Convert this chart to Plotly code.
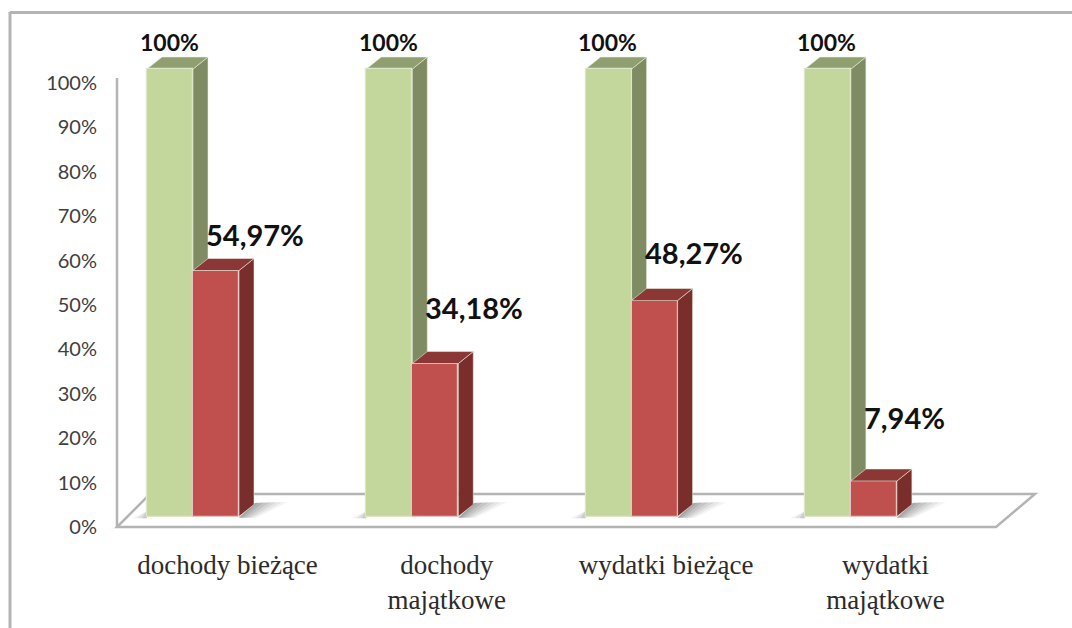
import plotly.graph_objects as go

categories = ["dochody bieżące", "dochody<br>majątkowe", "wydatki bieżące", "wydatki<br>majątkowe"]
green_values = [100, 100, 100, 100]
red_values = [54.97, 34.18, 48.27, 7.94]
green_labels = ["100%", "100%", "100%", "100%"]
red_labels = ["54,97%", "34,18%", "48,27%", "7,94%"]
tick_values = [0, 10, 20, 30, 40, 50, 60, 70, 80, 90, 100]
tick_labels = ["0%", "10%", "20%", "30%", "40%", "50%", "60%", "70%", "80%", "90%", "100%"]

# ---- layout geometry (pixels of the page) ----
W, H = 1072, 628
PLOT_L, AXIS_Y = 117, 527
CAT_X0, CAT_STEP = 227.5, 219.3      # pixel of first category label, spacing
BAR_BASE_Y, BAR_PX_PER_UNIT = 516.5, 4.475
TICK_PX_PER_UNIT = 4.44
BAR_W = 46
GREEN_L_OFF = -80.5                   # green bar left edge relative to category label centre
DEPTH_X, DEPTH_Y = 15, 12
RED_LABEL_LIFT = [36, 56, 48, 63]

GREEN, GREEN_SIDE, GREEN_TOP = "#C3D69B", "#7F8B63", "#8F9F70"
RED, RED_SIDE, RED_TOP = "#C0504D", "#7A2E2C", "#8B3735"
EDGE = "#B4B4B4"

ux = 1 / CAT_STEP
uy = 1 / BAR_PX_PER_UNIT
x_range = [(PLOT_L - CAT_X0) * ux, (W - CAT_X0) * ux]
y_range_bars = [(BAR_BASE_Y - AXIS_Y) * uy, BAR_BASE_Y * uy]
y_range_ticks = [0, AXIS_Y / TICK_PX_PER_UNIT]


def px(x):
    return (x - PLOT_L) / (W - PLOT_L)


def py(y):
    return (AXIS_Y - y) / AXIS_Y


def poly(xs, ys, color, yaxis):
    return go.Scatter(x=xs + xs[:1], y=ys + ys[:1], mode="lines", fill="toself", fillcolor=color,
                      line=dict(width=0.8, color="rgba(235,240,225,0.7)"),
                      hoverinfo="skip", showlegend=False, yaxis=yaxis)


def shadow(xs, ys, alpha):
    return go.Scatter(x=xs + xs[:1], y=ys + ys[:1], mode="lines", fill="toself",
                      fillcolor=f"rgba(90,90,90,{alpha})", line=dict(width=0),
                      hoverinfo="skip", showlegend=False, yaxis="y2")


fig = go.Figure()
w = BAR_W * ux
dx, dy = DEPTH_X * ux, DEPTH_Y * uy
green_x = [i + (GREEN_L_OFF + BAR_W / 2) * ux for i in range(4)]
red_x = [gx + w for gx in green_x]

# soft floor shadows, beneath everything
for i in range(4):
    rx = red_x[i] + w / 2
    lx = green_x[i] - w / 2
    for spread, alpha in [(34, 0.07), (28, 0.09), (22, 0.11), (16, 0.13), (10, 0.15), (5, 0.17)]:
        s = spread * ux
        fig.add_trace(shadow([rx, rx + dx, rx + dx + s, rx + s * 0.5],
                             [-0.3, dy * 1.1, dy * 1.2, -0.3], alpha))
    for spread, alpha in [(15, 0.08), (10, 0.12), (5, 0.16)]:
        s = spread * ux
        fig.add_trace(shadow([lx, lx, lx - s], [-0.4, dy * 0.45, -0.4], alpha))

# green depth faces sit behind the front faces of both bars
for i in range(4):
    xr = green_x[i] + w / 2
    xl = green_x[i] - w / 2
    v = green_values[i]
    fig.add_trace(poly([xr, xr + dx, xr + dx, xr], [0, dy, v + dy, v], GREEN_SIDE, "y2"))
    fig.add_trace(poly([xl, xr, xr + dx, xl + dx], [v, v, v + dy, v + dy], GREEN_TOP, "y2"))

# front faces
fig.add_trace(go.Bar(x=green_x, y=green_values, width=w, marker=dict(color=GREEN, line=dict(color="#DDE6C8", width=1.2)),
                     yaxis="y3", showlegend=False, hoverinfo="skip"))
fig.add_trace(go.Bar(x=red_x, y=red_values, width=w, marker=dict(color=RED, line=dict(color="#E6C4C2", width=1.2)),
                     yaxis="y3", showlegend=False, hoverinfo="skip"))

# red depth faces
for i in range(4):
    xr = red_x[i] + w / 2
    xl = red_x[i] - w / 2
    v = red_values[i]
    fig.add_trace(poly([xr, xr + dx, xr + dx, xr], [0, dy, v + dy, v], RED_SIDE, "y3"))
    fig.add_trace(poly([xl, xr, xr + dx, xl + dx], [v, v, v + dy, v + dy], RED_TOP, "y3"))

# invisible trace so the base axis pair (with the percent ticks) is active
fig.add_trace(go.Scatter(x=[0], y=[0], mode="markers", marker=dict(opacity=0), hoverinfo="skip",
                         showlegend=False, yaxis="y"))

annotations = []
for i in range(4):
    annotations.append(dict(x=green_x[i], y=green_values[i], xref="x", yref="y3", text=green_labels[i],
                            showarrow=False, yshift=27, xanchor="center", yanchor="middle", xshift=-1,
                            font=dict(family="Lato", size=23, color="#111111", weight="bold")))
    annotations.append(dict(x=red_x[i] - w / 2, y=red_values[i], xref="x", yref="y3", text=red_labels[i],
                            showarrow=False, xshift=11, yshift=RED_LABEL_LIFT[i], xanchor="left", yanchor="middle",
                            font=dict(family="Lato", size=29, color="#111111", weight="bold")))

floor_path = "M {} {} L {} {} L {} {} L {} {} Z".format(
    px(117), py(527), px(996), py(527), px(1035), py(494), px(150), py(494))
shapes = [
    dict(type="path", xref="paper", yref="paper", path=floor_path, layer="below",
         line=dict(color=EDGE, width=2.5), fillcolor="white"),
    dict(type="line", xref="paper", yref="paper", x0=px(117), x1=px(117), y0=py(527), y1=py(78), layer="below",
         line=dict(color=EDGE, width=2.5)),
    dict(type="line", xref="paper", yref="paper", x0=px(10), x1=px(10), y0=py(12), y1=py(628), layer="below",
         line=dict(color=EDGE, width=3)),
    dict(type="line", xref="paper", yref="paper", x0=px(10), x1=px(1072), y0=py(12.5), y1=py(12.5), layer="below",
         line=dict(color=EDGE, width=3)),
]

fig.update_layout(
    width=W, height=H, autosize=False,
    margin=dict(l=PLOT_L, r=0, t=0, b=H - AXIS_Y, pad=0),
    paper_bgcolor="white", plot_bgcolor="rgba(0,0,0,0)",
    showlegend=False, barmode="overlay", bargap=0,
    xaxis=dict(range=x_range, tickvals=list(range(4)), ticktext=categories, showgrid=False, zeroline=False,
               showline=False, ticks="", ticklabelstandoff=19, tickangle=0, fixedrange=True,
               tickfont=dict(family="Liberation Serif", size=27, color="#2b2b2b")),
    yaxis=dict(range=y_range_ticks, tickvals=tick_values, ticktext=tick_labels, showgrid=False, zeroline=False,
               showline=False, ticks="", ticklabelstandoff=19, fixedrange=True,
               tickfont=dict(family="Lato", size=20, color="#404040")),
    yaxis2=dict(range=y_range_bars, overlaying="y", visible=False, fixedrange=True),
    yaxis3=dict(range=y_range_bars, overlaying="y", visible=False, fixedrange=True),
    annotations=annotations, shapes=shapes,
)

fig.write_html("out.html", config={"displayModeBar": False},
               post_script="document.documentElement.style.margin='0';document.body.style.margin='0';document.documentElement.style.overflow='hidden';")
